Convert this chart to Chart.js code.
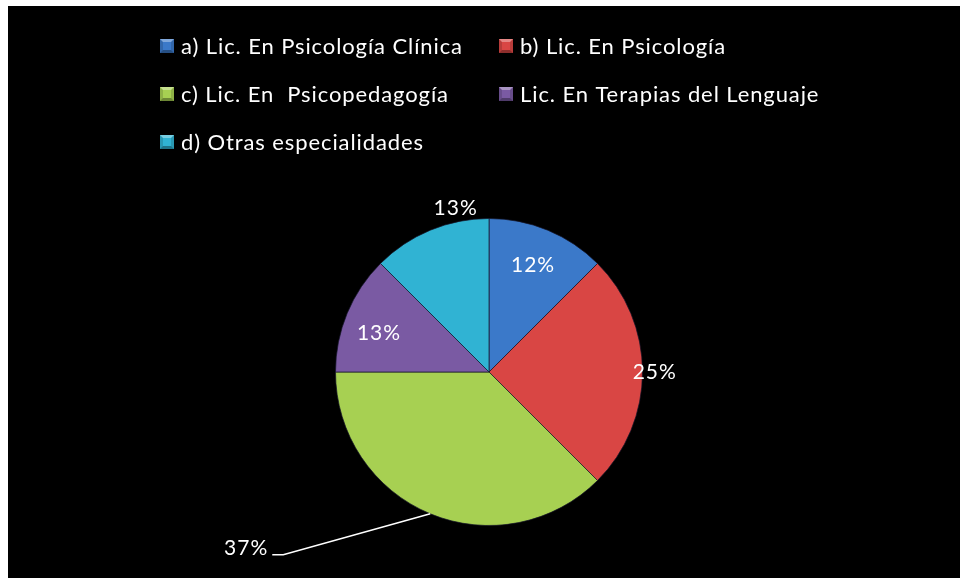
<!DOCTYPE html>
<html>
<head>
<meta charset="utf-8">
<script src="https://cdn.jsdelivr.net/npm/chart.js@4.4.1/dist/chart.umd.min.js"></script>
<style>
html,body{margin:0;padding:0;background:#fff;}
#wrap{position:absolute;left:8px;top:6px;width:952px;height:572px;background:#000;}
canvas{display:block;}
</style>
</head>
<body>
<div id="wrap"><canvas id="c" width="952" height="572"></canvas></div>
<script>
const categories = [
  "a) Lic. En Psicología Clínica",
  "b) Lic. En Psicología",
  "c) Lic. En  Psicopedagogía",
  "Lic. En Terapias del Lenguaje",
  "d) Otras especialidades"
];
const shares = [12.5, 25, 37.5, 12.5, 12.5];
const percentLabels = ["12%", "25%", "37%", "13%", "13%"];
const colors = ["#3b79c9", "#d94644", "#a7d052", "#7a5aa3", "#30b3d3"];

const FONT = 'Lato, "Open Sans", sans-serif';

function shade(hex, f) {
  const n = parseInt(hex.slice(1), 16);
  let r = (n >> 16) & 255, g = (n >> 8) & 255, b = n & 255;
  if (f >= 0) { r += (255 - r) * f; g += (255 - g) * f; b += (255 - b) * f; }
  else { r *= 1 + f; g *= 1 + f; b *= 1 + f; }
  return `rgb(${Math.round(r)},${Math.round(g)},${Math.round(b)})`;
}

const labelPlacement = [
  {r: 0.75}, {r: 1.08}, {r: 1.0, leader: {dx: -162, dy: 34}}, {r: 0.76, da: -3}, {r: 1.09, da: 11}
];

const bevelFill = (ctx) => {
  const chart = ctx.chart;
  const meta = chart.getDatasetMeta(0);
  const arc = meta.data[ctx.dataIndex];
  const base = colors[ctx.dataIndex];
  if (!arc || !arc.outerRadius) return base;
  const g = chart.ctx.createRadialGradient(arc.x, arc.y, 0, arc.x, arc.y, arc.outerRadius);
  g.addColorStop(0, base);
  g.addColorStop(0.87, base);
  g.addColorStop(0.91, shade(base, 0.2));
  g.addColorStop(0.95, base);
  g.addColorStop(1, shade(base, -0.3));
  return g;
};

const legendPlugin = {
  id: 'customLegend',
  afterDraw(chart) {
    const c = chart.ctx;
    const cols = [152, 491];
    const rows = [40, 88, 136];
    c.save();
    c.font = `22px ${FONT}`;
    c.letterSpacing = '0.9px';
    c.textBaseline = 'middle';
    c.textAlign = 'left';
    categories.forEach((t, i) => {
      const x = cols[i % 2], y = rows[Math.floor(i / 2)];
      const s = 14, top = y - s / 2;
      const col = colors[i];
      c.fillStyle = shade(col, -0.15);
      c.fillRect(x, top, s, s);
      c.fillStyle = shade(col, 0.35);
      c.beginPath(); c.moveTo(x, top); c.lineTo(x + s, top); c.lineTo(x + s - 3, top + 3); c.lineTo(x + 3, top + 3); c.closePath(); c.fill();
      c.fillStyle = shade(col, -0.35);
      c.beginPath(); c.moveTo(x, top + s); c.lineTo(x + s, top + s); c.lineTo(x + s - 3, top + s - 3); c.lineTo(x + 3, top + s - 3); c.closePath(); c.fill();
      c.fillStyle = col;
      c.fillRect(x + 3, top + 3, s - 6, s - 6);
      c.fillStyle = '#ffffff';
      c.fillText(t, x + 21, y + 1);
    });
    c.restore();
  }
};

const labelPlugin = {
  id: 'pctLabels',
  afterDatasetsDraw(chart) {
    const c = chart.ctx;
    const meta = chart.getDatasetMeta(0);
    c.save();
    c.font = `21px ${FONT}`;
    c.letterSpacing = '1px';
    c.fillStyle = '#ffffff';
    c.textBaseline = 'middle';
    meta.data.forEach((arc, i) => {
      const p = labelPlacement[i];
      const mid = (arc.startAngle + arc.endAngle) / 2 + (p.da || 0) * Math.PI / 180;
      const R = arc.outerRadius * p.r;
      const px = arc.x + Math.cos(mid) * R;
      const py = arc.y + Math.sin(mid) * R;
      if (p.leader) {
        const lx = px + p.leader.dx, ly = py + p.leader.dy;
        c.strokeStyle = '#ffffff';
        c.lineWidth = 1.5;
        c.beginPath();
        c.moveTo(px, py);
        c.lineTo(lx + 15, ly + 7);
        c.lineTo(lx + 4, ly + 7);
        c.stroke();
        c.textAlign = 'right';
        c.fillText(percentLabels[i], lx, ly);
      } else {
        c.textAlign = 'center';
        c.fillText(percentLabels[i], px, py);
      }
    });
    c.restore();
  }
};

new Chart(document.getElementById('c'), {
  type: 'pie',
  data: {
    labels: categories,
    datasets: [{
      data: shares,
      backgroundColor: bevelFill,
      borderColor: 'rgba(20,20,40,0.7)',
      borderWidth: 1
    }]
  },
  options: {
    responsive: false,
    animation: false,
    layout: { padding: { left: 327, right: 317, top: 212, bottom: 52 } },
    plugins: {
      legend: { display: false },
      tooltip: { enabled: false }
    }
  },
  plugins: [legendPlugin, labelPlugin]
});
</script>
</body>
</html>
